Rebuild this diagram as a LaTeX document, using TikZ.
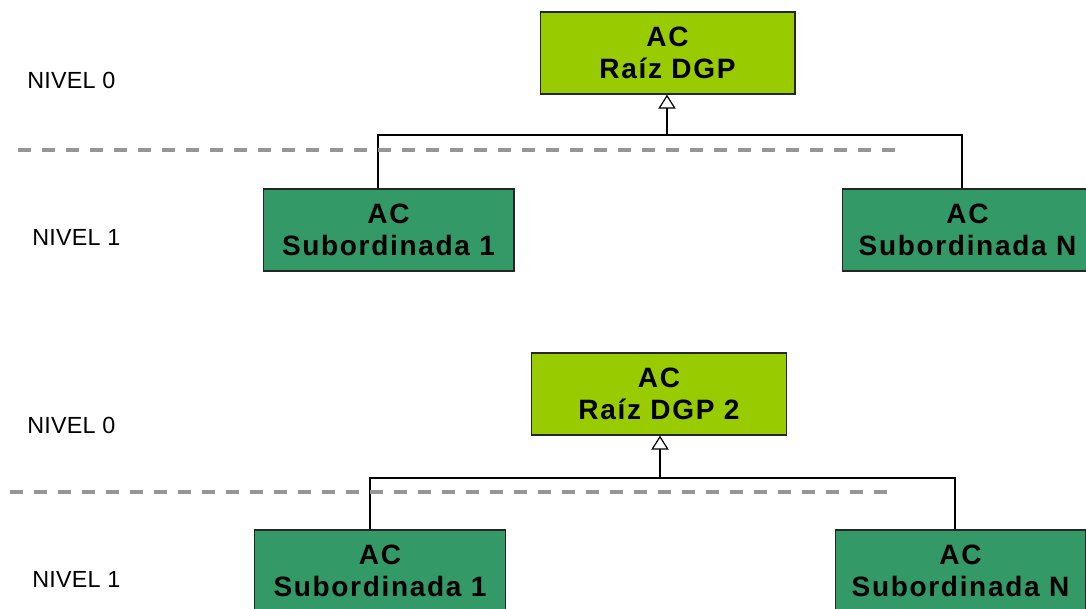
\documentclass[tikz,border=0pt]{standalone}
\usepackage{fontspec}
\setmainfont{Liberation Sans}
\newfontfamily\acfont[LetterSpace=6]{Liberation Sans}
\newfontfamily\nivelfont[LetterSpace=1]{Liberation Sans}
\usetikzlibrary{arrows.meta}

\begin{document}
\begin{tikzpicture}[x=0.75pt,y=0.75pt,yscale=-1,xscale=1,
    acbox/.style={draw=black!85,line width=1pt,minimum width=192pt,minimum height=61.5pt,inner sep=0pt,align=center,font=\acfont\bfseries\fontsize{21}{24}\selectfont},
    raiz/.style={acbox,fill={rgb,255:red,153;green,204;blue,0},minimum width=191pt},
    subord/.style={acbox,fill={rgb,255:red,51;green,153;blue,102},minimum width=188pt},
    nivel/.style={anchor=west,inner sep=0pt,font=\nivelfont\fontsize{17.5}{19}\selectfont},
    linea/.style={black,line width=1pt},
    hereda/.style={linea,-{Triangle[open,length=10.5pt,width=13pt,line width=0.9pt]}},
    separa/.style={color={rgb,255:red,150;green,150;blue,150},line width=2.3pt,dash pattern=on 10pt off 8pt}]
    \useasboundingbox (0,0) rectangle (1086,609);

    %Upper tree
    \node [raiz] (raizA) at (667.5,53) {AC\\Raíz DGP};
    \node [subord] (subA1) at (388.5,230) {AC\\Subordinada 1};
    \node [subord] (subAN) at (967.5,230) {AC\\Subordinada N};
    \coordinate (busA) at (667,135);
    \coordinate (busA1) at (378,135);
    \coordinate (busAN) at (962,135);
    \draw [linea] (busA1 |- subA1.north) -- (busA1) -- (busAN) -- (busAN |- subAN.north);
    \draw [hereda] (busA) -- (busA |- raizA.south);
    %Separator
    \coordinate (sepAl) at (18,150);
    \coordinate (sepAr) at (905,150);
    \draw [separa] (sepAl) -- (sepAr);
    % Text Node
    \node [nivel] (nivA0) at (27,80) {NIVEL 0};
    \node [nivel] (nivA1) at (32,237) {NIVEL 1};

    %Lower tree
    \node [raiz] (raizB) at (659,394) {AC\\Raíz DGP 2};
    \node [subord] (subB1) at (380,571) {AC\\Subordinada 1};
    \node [subord] (subBN) at (960.5,571) {AC\\Subordinada N};
    \coordinate (busB) at (660,478);
    \coordinate (busB1) at (370,478);
    \coordinate (busBN) at (955,478);
    \draw [linea] (busB1 |- subB1.north) -- (busB1) -- (busBN) -- (busBN |- subBN.north);
    \draw [hereda] (busB) -- (busB |- raizB.south);
    %Separator
    \coordinate (sepBl) at (10,492);
    \coordinate (sepBr) at (895,492);
    \draw [separa] (sepBl) -- (sepBr);
    % Text Node
    \node [nivel] (nivB0) at (27,425) {NIVEL 0};
    \node [nivel] (nivB1) at (32,579) {NIVEL 1};
\end{tikzpicture}
\end{document}
